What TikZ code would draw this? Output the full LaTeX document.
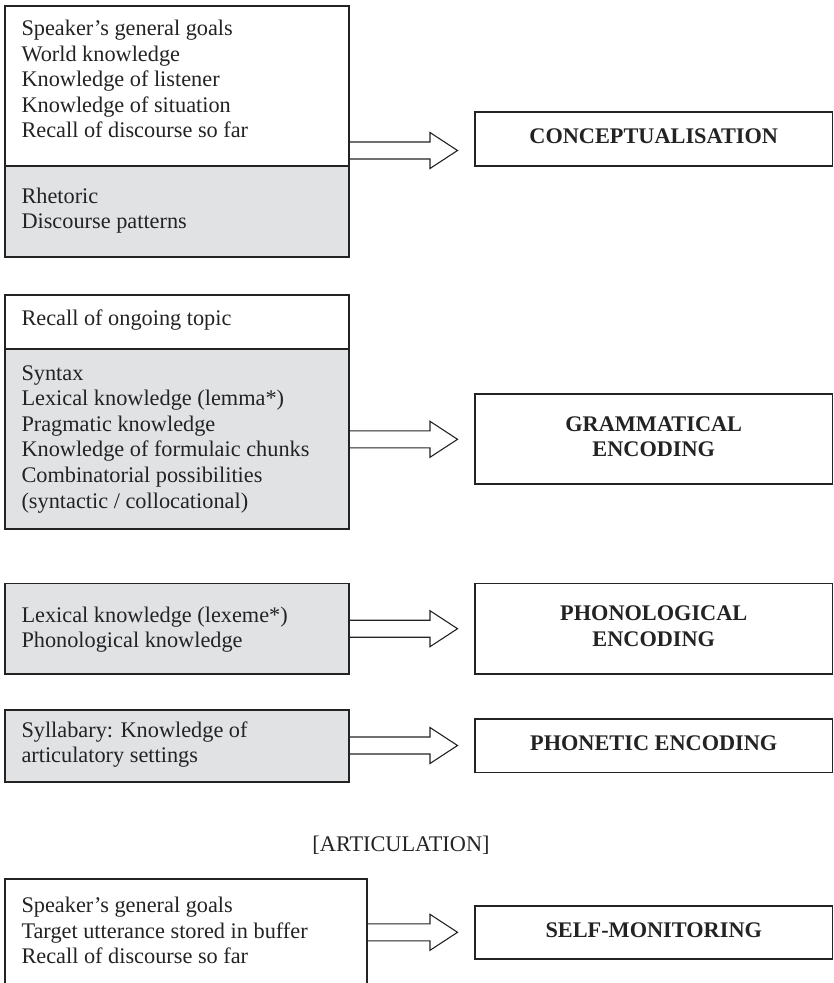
\documentclass[tikz,border=0pt]{standalone}
\usepackage{fontspec}
\setmainfont{Liberation Serif}
\usetikzlibrary{calc}
\definecolor{boxgray}{RGB}{225,226,228}
\definecolor{ink}{RGB}{35,35,35}

\begin{document}
\begin{tikzpicture}[x=1pt, y=-1pt,
  every node/.style={inner sep=0pt, outer sep=0pt},
  frame/.style={draw=ink, line width=1.2pt, anchor=north west, minimum width=344pt},
  known/.style={frame, fill=white},
  shaded/.style={frame, fill=boxgray},
  % stage labels sit slightly above the box centre (extra depth on the last line)
  stage/.style={draw=ink, line width=1.2pt, fill=white, anchor=north west,
    minimum width=357.5pt, align=center, text=ink,
    font=\fontsize{22.3}{25.5}\selectfont\bfseries,
    execute at end node={\rule[-5pt]{0pt}{5pt}}},
  lines/.style={anchor=north west, align=left, text=ink,
    font=\fontsize{22.3}{25.6}\selectfont},
  % open block arrow: shaft from the source edge, head ending 17.5pt before the target
  fat/.style={draw=ink, line width=1.1pt,
    to path={($(\tikztostart)+(0,-8.5)$) -- ($(\tikztotarget)+(-45,-8.5)$)
      -- ($(\tikztotarget)+(-45,-18)$) -- ($(\tikztotarget)+(-17.5,0)$)
      -- ($(\tikztotarget)+(-45,18)$) -- ($(\tikztotarget)+(-45,8.5)$)
      -- ($(\tikztostart)+(0,8.5)$)}}
]
\useasboundingbox (0,0) rectangle (834,983);

% knowledge boxes (left column)
\node[known,  minimum height=160pt] (k1a) at (5,6) {};
\node[shaded, minimum height=91pt]  (k1b) at (5,166) {};
\node[known,  minimum height=54pt]  (k2a) at (5,295) {};
\node[shaded, minimum height=180pt] (k2b) at (5,349) {};
\node[shaded, minimum height=90.5pt] (k3) at (5,583.5) {};
\node[shaded, minimum height=72pt]  (k4) at (5,710) {};
\node[known,  minimum width=362pt, minimum height=112pt] (k5) at (5,879) {};

% texts of the knowledge boxes
\node[lines] (t1a) at (21.5,17.6) {\strut Speaker’s general goals\\World knowledge\\Knowledge of listener\\Knowledge of situation\\Recall of discourse so far};
\node[lines] (t1b) at (21.5,185.1) {\strut Rhetoric\\Discourse patterns};
\node[lines] (t2a) at (21.5,307.1) {\strut Recall of ongoing topic};
\node[lines] (t2b) at (21.5,362.1) {\strut Syntax\\Lexical knowledge (lemma*)\\Pragmatic knowledge\\Knowledge of formulaic chunks\\Combinatorial possibilities\\(syntactic / collocational)};
\node[lines] (t3) at (21.5,604.1) {\strut Lexical knowledge (lexeme*)\\Phonological knowledge};
\node[lines] (t4) at (21.5,719.1) {\strut Syllabary: Knowledge of\\articulatory settings};
\node[lines] (t5) at (21.5,894.6) {\strut Speaker’s general goals\\Target utterance stored in buffer\\Recall of discourse so far};

% processing stages (right column)
\node[stage, minimum height=54pt]   (r1) at (475,112)   {CONCEPTUALISATION};
\node[stage, minimum height=90pt]   (r2) at (475,394)   {GRAMMATICAL\\ENCODING};
\node[stage, minimum height=90.5pt] (r3) at (475,583.5) {PHONOLOGICAL\\ENCODING};
\node[stage, minimum height=53.5pt] (r4) at (475,719)   {PHONETIC ENCODING};
\node[stage, minimum height=53pt]   (r5) at (475,906)   {SELF-MONITORING};

\node[text=ink, font=\fontsize{22.3}{25.6}\selectfont] (art) at (401,845) {[ARTICULATION]};

% arrow heights
\coordinate (y1) at (0,150.5);
\coordinate (y2) at (0,439.3);
\coordinate (y3) at (0,628.7);
\coordinate (y4) at (0,745.5);
\coordinate (y5) at (0,932.3);

\draw[fat] (k1a.east |- y1) to (r1.west |- y1);
\draw[fat] (k2b.east |- y2) to (r2.west |- y2);
\draw[fat] (k3.east |- y3)  to (r3.west |- y3);
\draw[fat] (k4.east |- y4)  to (r4.west |- y4);
\draw[fat] (k5.east |- y5)  to (r5.west |- y5);
\end{tikzpicture}
\end{document}
